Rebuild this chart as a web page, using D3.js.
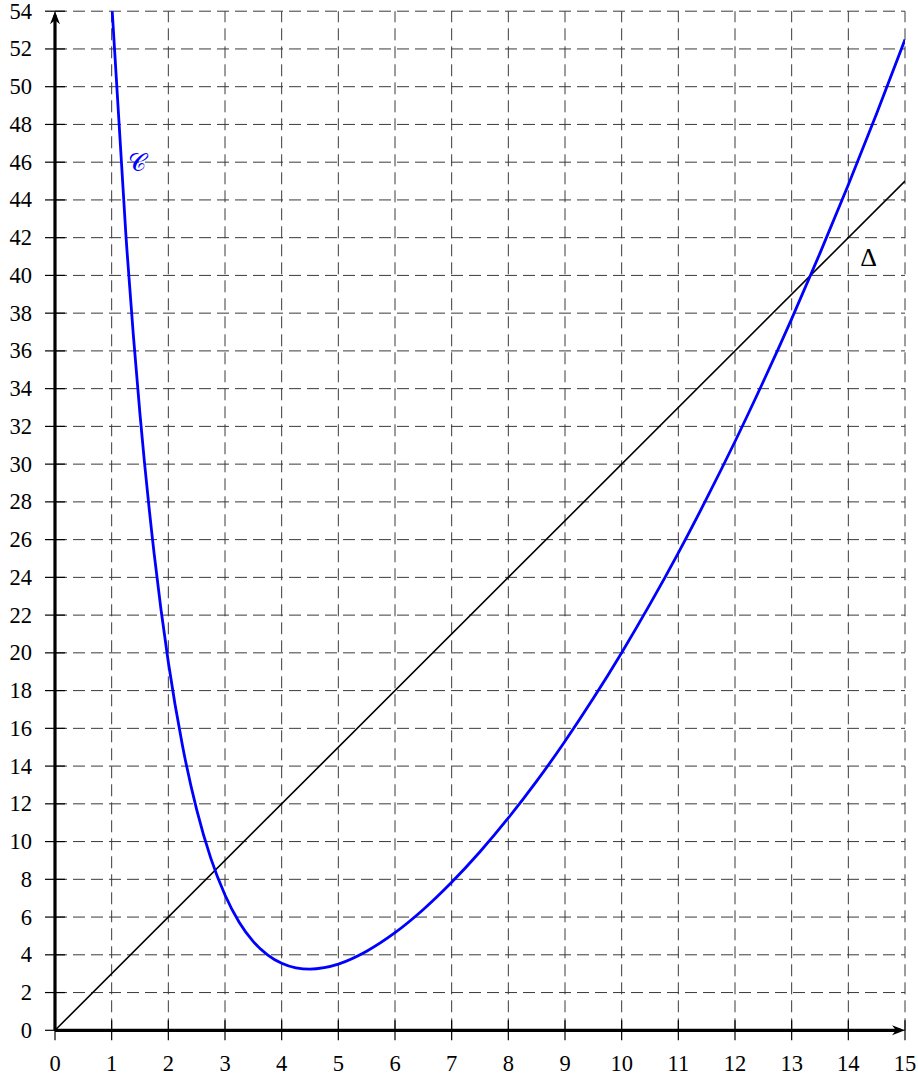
<!DOCTYPE html>
<html>
<head>
<meta charset="utf-8">
<script src="https://cdn.jsdelivr.net/npm/d3@7"></script>
<style>
  html, body { margin: 0; padding: 0; background: #fff; }
  svg { display: block; }
  .tick-label { font-family: "Liberation Serif", "DejaVu Serif", serif; font-size: 22.5px; fill: #000; }
</style>
</head>
<body>
<script>
// Curve C: sampled points (x, y)
const curveX = [1, 1.25, 1.5, 1.75, 2, 2.25, 2.5, 2.75, 3, 3.25, 3.5, 3.75, 4, 4.25, 4.5, 4.75, 5, 5.5, 6, 6.5, 7, 7.5, 8, 8.5, 9, 9.5, 10, 10.5, 11, 11.5, 12, 12.5, 13, 13.5, 14, 14.5, 15];
const curveY = [54.48, 42.20, 32.64, 25.24, 19.50, 15.08, 11.69, 9.11, 7.17, 5.73, 4.70, 4.00, 3.55, 3.31, 3.24, 3.32, 3.51, 4.19, 5.17, 6.40, 7.84, 9.46, 11.25, 13.20, 15.32, 17.59, 20.01, 22.58, 25.30, 28.18, 31.20, 34.38, 37.70, 41.18, 44.80, 48.58, 52.50];

// Line Delta: end points
const deltaX = [0, 15];
const deltaY = [0, 45];

// Axis ticks
const xTicks = [0, 1, 2, 3, 4, 5, 6, 7, 8, 9, 10, 11, 12, 13, 14, 15];
const yTicks = [0, 2, 4, 6, 8, 10, 12, 14, 16, 18, 20, 22, 24, 26, 28, 30, 32, 34, 36, 38, 40, 42, 44, 46, 48, 50, 52, 54];

// Curve labels
const labelText = ["𝒞", "Δ"];
const labelX = [1.45, 14.36];
const labelY = [46.0, 41.0];

const W = 918, H = 1075;
const x = d3.scaleLinear().domain([0, 15]).range([55, 905]);
const y = d3.scaleLinear().domain([0, 54]).range([1030.3, 11.2]);

const svg = d3.select("body").append("svg").attr("width", W).attr("height", H);

svg.append("defs").append("clipPath").attr("id", "plot")
  .append("rect")
  .attr("x", x(0)).attr("y", y(54))
  .attr("width", x(15) - x(0)).attr("height", y(0) - y(54));

// Dashed grid: vertical lines run bottom to top, horizontal lines left to right
const grid = svg.append("g").attr("stroke", "#3a3a3a").attr("stroke-width", 1)
  .attr("stroke-dasharray", "12,6").attr("fill", "none");
grid.selectAll("line.v").data(xTicks).join("line").attr("class", "v")
  .attr("x1", d => x(d)).attr("x2", d => x(d))
  .attr("y1", y(0)).attr("y2", y(54));
grid.selectAll("line.h").data(yTicks).join("line").attr("class", "h")
  .attr("x1", x(0)).attr("x2", x(15))
  .attr("y1", d => y(d)).attr("y2", d => y(d));

// Axes with stealth-style arrow heads
const axes = svg.append("g");
axes.append("line").attr("x1", x(0)).attr("x2", x(15) - 4).attr("y1", y(0)).attr("y2", y(0))
  .attr("stroke", "#000").attr("stroke-width", 3.2);
axes.append("line").attr("x1", x(0)).attr("x2", x(0)).attr("y1", y(0)).attr("y2", y(54) + 4)
  .attr("stroke", "#000").attr("stroke-width", 3.2);
const ax = x(15), ay = y(0);
axes.append("path").attr("d", `M${ax},${ay} L${ax - 13},${ay - 5} L${ax - 9},${ay} L${ax - 13},${ay + 5} Z`).attr("fill", "#000");
const bx = x(0), by = y(54);
axes.append("path").attr("d", `M${bx},${by} L${bx - 5},${by + 13} L${bx},${by + 9} L${bx + 5},${by + 13} Z`).attr("fill", "#000");

// Tick marks
axes.selectAll("line.xt").data(xTicks).join("line").attr("class", "xt")
  .attr("x1", d => x(d)).attr("x2", d => x(d))
  .attr("y1", y(0) - 10).attr("y2", y(0) + 10)
  .attr("stroke", "#000").attr("stroke-width", 1.2);
axes.selectAll("line.yt").data(yTicks).join("line").attr("class", "yt")
  .attr("x1", x(0) - 10).attr("x2", x(0) + 10)
  .attr("y1", d => y(d)).attr("y2", d => y(d))
  .attr("stroke", "#000").attr("stroke-width", 1.2);

// Tick labels
svg.selectAll("text.xl").data(xTicks).join("text").attr("class", "tick-label xl")
  .attr("x", d => x(d)).attr("y", y(0) + 41)
  .attr("text-anchor", "middle").text(d => d);
svg.selectAll("text.yl").data(yTicks).join("text").attr("class", "tick-label yl")
  .attr("x", x(0) - 23).attr("y", d => y(d) + 7.5)
  .attr("text-anchor", "end").text(d => d);

const plot = svg.append("g").attr("clip-path", "url(#plot)");

// Line Delta
plot.append("path")
  .datum(deltaX.map((d, i) => [d, deltaY[i]]))
  .attr("d", d3.line().x(d => x(d[0])).y(d => y(d[1])))
  .attr("fill", "none").attr("stroke", "#000").attr("stroke-width", 1.6);

// Curve C
plot.append("path")
  .datum(curveX.map((d, i) => [d, curveY[i]]))
  .attr("d", d3.line().x(d => x(d[0])).y(d => y(d[1])).curve(d3.curveMonotoneX))
  .attr("fill", "none").attr("stroke", "#0000ff").attr("stroke-width", 2.8);

// Labels
svg.append("text").attr("x", x(labelX[0])).attr("y", y(labelY[0]) + 9)
  .attr("text-anchor", "middle").attr("fill", "#0000ff")
  .attr("font-family", "'DejaVu Sans', 'Noto Sans', serif").attr("font-size", 25)
  .text(labelText[0]);
svg.append("text").attr("x", x(labelX[1])).attr("y", y(labelY[1]) + 9)
  .attr("text-anchor", "middle").attr("fill", "#000")
  .attr("font-family", "'Liberation Serif', serif").attr("font-size", 26)
  .text(labelText[1]);
</script>
</body>
</html>
